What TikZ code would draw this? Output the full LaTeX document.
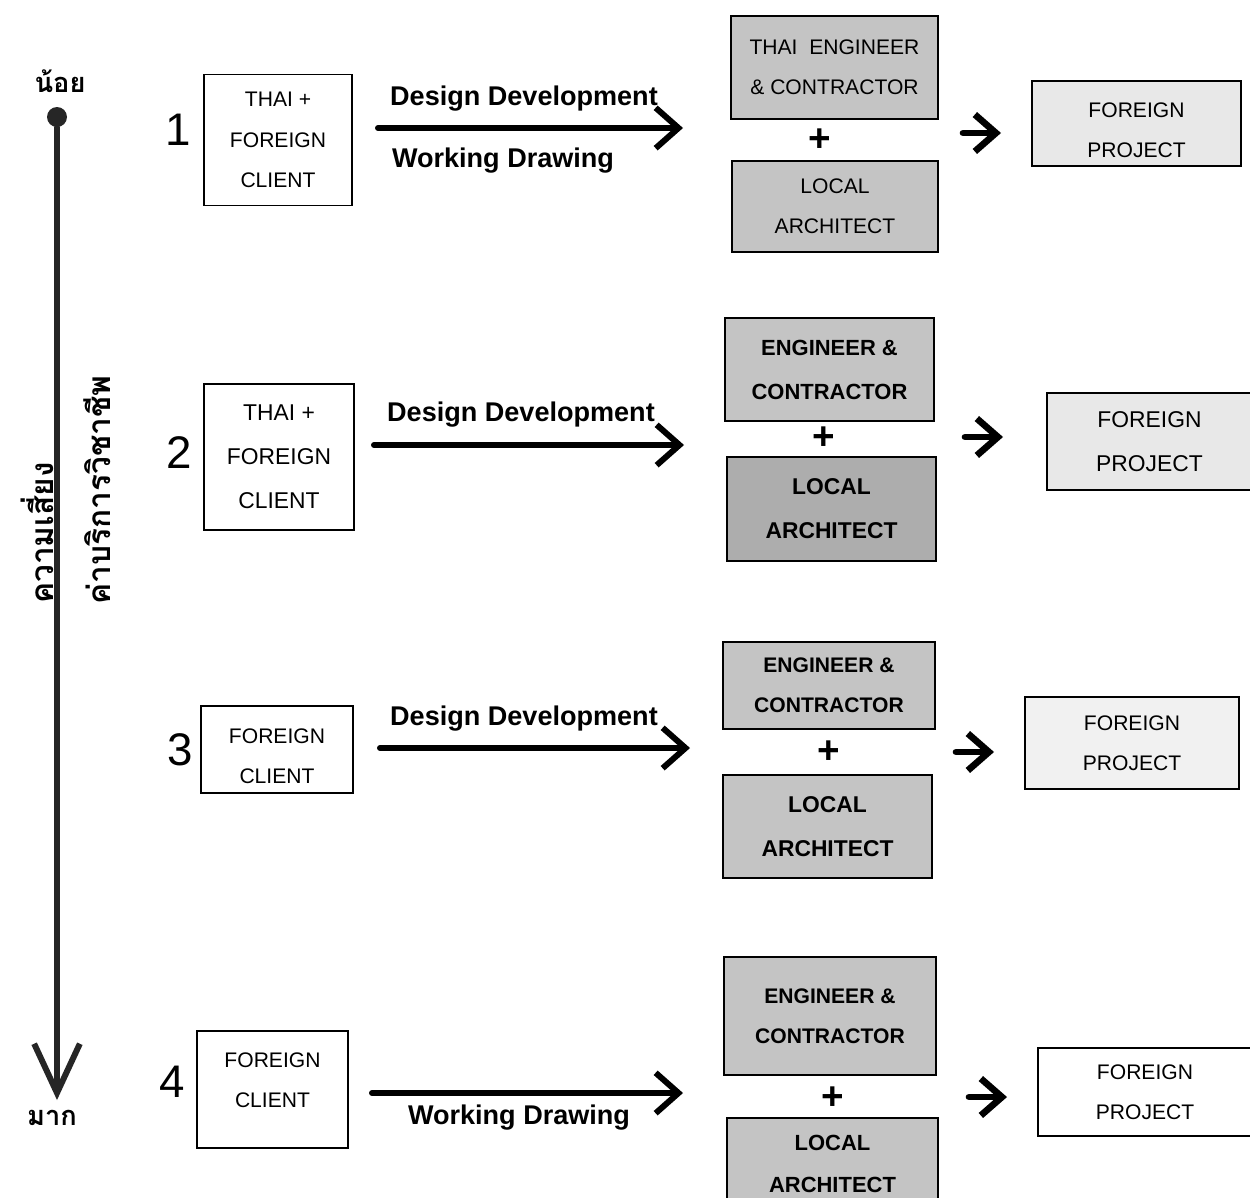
\documentclass[tikz,border=0pt]{standalone}
\usepackage{fontspec}
\setmainfont{Liberation Sans}
\newfontfamily\thaifont[Script=Thai]{Loma}
\usetikzlibrary{arrows.meta}
\newcommand\px{0.02cm}
\definecolor{grayA}{gray}{0.77}
\definecolor{grayB}{gray}{0.68}
\definecolor{projgray}{gray}{0.91}
\tikzstyle{arr}=[-{Straight Barb[length=13pt,width=23pt]},line width=3.4pt,line cap=round,line join=round]
\tikzstyle{smallarr}=[-{Straight Barb[length=12pt,width=21pt]},line width=3.8pt,line cap=round,line join=round]
\tikzstyle{axis}=[-{Straight Barb[length=28pt,width=26pt]},line width=3.4pt,line cap=round,line join=round]
\tikzstyle{box}=[draw,line width=1pt,inner sep=0pt,align=center,
  font=\fontsize{12}{23}\selectfont]
\tikzstyle{bigbox}=[box,font=\fontsize{13}{25}\selectfont]
\tikzstyle{client}=[fill=white]
\tikzstyle{firm}=[fill=grayA]
\tikzstyle{proj}=[fill=projgray]
\tikzstyle{lbl}=[font=\bfseries\fontsize{15.4}{18}\selectfont]
\tikzstyle{num}=[font=\fontsize{26}{30}\selectfont]
\tikzstyle{plus}=[font=\bfseries\fontsize{22}{24}\selectfont]
\tikzstyle{thai}=[font=\thaifont\bfseries\fontsize{18}{20}\selectfont]
\tikzstyle{thaiend}=[font=\thaifont\bfseries\fontsize{15.5}{18}\selectfont]

\begin{document}
\begin{tikzpicture}[x=\px,y=-\px]
\useasboundingbox[fill=white] (0,0) rectangle (1250,1197);

% risk / fee axis
\node[circle,fill=black!85,minimum size=20*\px,inner sep=0pt] (dot) at (57,117) {};
\coordinate (tip) at (57,1100);
\draw[axis,black!85] (dot) -- (tip);
\node[thaiend] (low) at (60,81) {น้อย};
\node[thaiend] (high) at (52,1118) {มาก};
\node[thai,rotate=90] (risk) at (37,533) {ความเสี่ยง};
\node[thai,rotate=90] (fee) at (97,490) {ค่าบริการวิชาชีพ};

% case 1
\node[num] (n1) at (178,130) {1};
\node[box,client,minimum width=148*\px,minimum height=131*\px] (c1) at (278,140)
  {THAI +\\FOREIGN\\CLIENT};
\coordinate (a1s) at (378,128); \coordinate (a1e) at (683,128);
\draw[arr] (a1s) -- (a1e);
\node[lbl] (dd1) at (524,99) {Design Development};
\node[lbl] (wd1) at (503,161) {Working Drawing};
\node[box,firm,minimum width=207*\px,minimum height=103*\px] (g1a) at (834.5,67.5)
  {THAI\ \ ENGINEER\\\& CONTRACTOR};
\node[plus] (plus1) at (820,140) {+};
\node[box,firm,minimum width=206*\px,minimum height=91*\px] (g1b) at (835,206.5)
  {LOCAL\\ARCHITECT};
\coordinate (s1s) at (963,133); \coordinate (s1e) at (1001,133);
\draw[smallarr] (s1s) -- (s1e);
\node[box,proj,minimum width=209*\px,minimum height=85*\px] (p1) at (1136.5,123.5)
  {\strut FOREIGN\\PROJECT};

% case 2
\node[num] (n2) at (179,453) {2};
\node[bigbox,client,minimum width=150*\px,minimum height=146*\px] (c2) at (279,457)
  {THAI +\\FOREIGN\\CLIENT};
\coordinate (a2s) at (374,445); \coordinate (a2e) at (684,445);
\draw[arr] (a2s) -- (a2e);
\node[lbl] (dd2) at (521,415) {Design Development};
\node[bigbox,firm,font=\bfseries\fontsize{12.5}{25}\selectfont,minimum width=209*\px,minimum height=103*\px]
  (g2a) at (829.5,369.5) {ENGINEER \&\\CONTRACTOR};
\node[plus] (plus2) at (824,438) {+};
\node[bigbox,fill=grayB,font=\bfseries\fontsize{13}{25}\selectfont,minimum width=209*\px,minimum height=104*\px]
  (g2b) at (831.5,509) {LOCAL\\ARCHITECT};
\coordinate (s2s) at (965,437); \coordinate (s2e) at (1003,437);
\draw[smallarr] (s2s) -- (s2e);
\node[bigbox,proj,minimum width=205*\px,minimum height=97*\px] (p2) at (1149.5,441.5)
  {FOREIGN\\PROJECT};

% case 3
\node[num] (n3) at (180,750) {3};
\node[box,client,minimum width=152*\px,minimum height=87*\px] (c3) at (277,749.5)
  {\strut FOREIGN\\CLIENT};
\coordinate (a3s) at (380,748); \coordinate (a3e) at (690,748);
\draw[arr] (a3s) -- (a3e);
\node[lbl] (dd3) at (524,719) {Design Development};
\node[box,firm,font=\bfseries\fontsize{12}{23}\selectfont,minimum width=212*\px,minimum height=87*\px]
  (g3a) at (829,685.5) {ENGINEER \&\\CONTRACTOR};
\node[plus] (plus3) at (829,752) {+};
\node[box,firm,font=\bfseries\fontsize{13}{25}\selectfont,minimum width=209*\px,minimum height=103*\px]
  (g3b) at (827.5,826.5) {LOCAL\\ARCHITECT};
\coordinate (s3s) at (956,752); \coordinate (s3e) at (994,752);
\draw[smallarr] (s3s) -- (s3e);
\node[box,proj,fill=projgray!60,minimum width=214*\px,minimum height=92*\px] (p3) at (1132,743)
  {FOREIGN\\PROJECT};

% case 4
\node[num] (n4) at (172,1082) {4};
\node[box,client,minimum width=151*\px,minimum height=117*\px] (c4) at (272.5,1089.5)
  {FOREIGN\\CLIENT\\[-12pt]\mbox{}};
\coordinate (a4s) at (372,1093); \coordinate (a4e) at (683,1093);
\draw[arr] (a4s) -- (a4e);
\node[lbl] (wd4) at (519,1118) {Working Drawing};
\node[box,firm,font=\bfseries\fontsize{12}{23}\selectfont,minimum width=212*\px,minimum height=118*\px]
  (g4a) at (830,1016) {ENGINEER \&\\CONTRACTOR};
\node[plus] (plus4) at (833,1098) {+};
\node[box,firm,font=\bfseries\fontsize{12.5}{24}\selectfont,minimum width=211*\px,minimum height=92*\px]
  (g4b) at (832.5,1164) {LOCAL\\ARCHITECT};
\coordinate (s4s) at (969,1097); \coordinate (s4e) at (1007,1097);
\draw[smallarr] (s4s) -- (s4e);
\node[box,client,minimum width=214*\px,minimum height=88*\px] (p4) at (1145,1092)
  {FOREIGN\\PROJECT};
\end{tikzpicture}
\end{document}
